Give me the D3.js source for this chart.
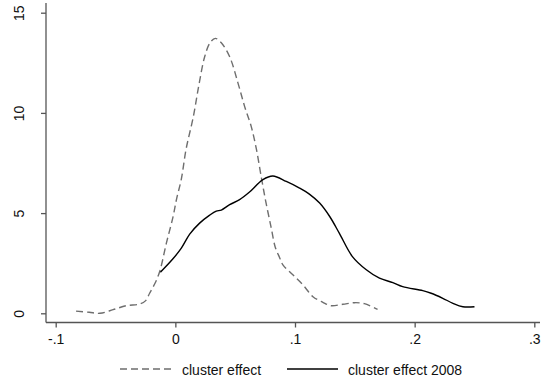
<!DOCTYPE html>
<html>
<head>
<meta charset="utf-8">
<script src="https://cdn.jsdelivr.net/npm/d3@7"></script>
<style>
  body { margin: 0; background: #fff; }
  svg { display: block; font-family: "Liberation Sans", Arial, sans-serif; }
</style>
</head>
<body>
<svg width="542" height="381"></svg>
<script>
// cluster effect (dashed grey)
const effectX = [-0.083, -0.072, -0.063, -0.052, -0.041, -0.030, -0.025, -0.0215, -0.017, -0.013,
  -0.0075, -0.002, 0.001, 0.005, 0.009, 0.015, 0.020, 0.0245, 0.029, 0.0334, 0.0384, 0.0454,
  0.0523, 0.058, 0.0635, 0.0677, 0.0718, 0.0755, 0.080, 0.0835, 0.087, 0.0899, 0.0982, 0.1066,
  0.115, 0.1233, 0.130, 0.140, 0.150, 0.158, 0.169];
const effectY = [0.11, 0.05, 0.0, 0.18, 0.38, 0.46, 0.62, 1.0, 1.5, 2.1,
  3.5, 4.8, 5.7, 6.7, 8.2, 9.8, 11.5, 12.8, 13.5, 13.72, 13.5, 12.8,
  11.5, 10.3, 9.3, 8.2, 6.8, 5.6, 4.3, 3.3, 2.8, 2.42, 1.92, 1.42,
  0.83, 0.55, 0.38, 0.45, 0.53, 0.48, 0.2];

// cluster effect 2008 (solid black)
const effect2008X = [-0.0125, -0.002, 0.005, 0.012, 0.0203, 0.0287, 0.0342, 0.0384, 0.0454, 0.0537,
  0.062, 0.0732, 0.0815, 0.0927, 0.1038, 0.112, 0.1206, 0.129, 0.137, 0.148, 0.1596, 0.1706,
  0.1818, 0.190, 0.2068, 0.2138, 0.2235, 0.232, 0.2403, 0.25];
const effect2008Y = [2.05, 2.72, 3.25, 3.95, 4.5, 4.9, 5.1, 5.15, 5.42, 5.67,
  6.05, 6.67, 6.85, 6.58, 6.25, 5.95, 5.5, 4.83, 4.0, 2.83, 2.17, 1.75,
  1.53, 1.33, 1.13, 1.0, 0.75, 0.5, 0.33, 0.33];

const xTicks = [-0.1, 0, 0.1, 0.2, 0.3];
const xTickLabels = ['-.1', '0', '.1', '.2', '.3'];
const yTicks = [0, 5, 10, 15];
const seriesNames = ['cluster effect', 'cluster effect 2008'];

const svg = d3.select('svg');

const xScale = d3.scaleLinear()
  .domain([-0.1, 0.3])
  .range([55.7, 534.3]);
const yScale = d3.scaleLinear()
  .domain([0, 15])
  .range([313.3, 12.7]);

const axisColor = '#555';

// axes lines
svg.append('line')
  .attr('x1', 46).attr('x2', 46)
  .attr('y1', 3).attr('y2', 322.5)
  .attr('stroke', axisColor).attr('stroke-width', 1.3);
svg.append('line')
  .attr('x1', 46).attr('x2', 540)
  .attr('y1', 322.5).attr('y2', 322.5)
  .attr('stroke', axisColor).attr('stroke-width', 1.3);

// x axis
const xAxis = d3.axisBottom(xScale)
  .tickValues(xTicks)
  .tickFormat((d, i) => xTickLabels[i])
  .tickSize(5)
  .tickPadding(7);
const gx = svg.append('g')
  .attr('transform', 'translate(0,322.5)')
  .call(xAxis);
gx.select('.domain').remove();
gx.selectAll('.tick line').attr('stroke', axisColor).attr('stroke-width', 1.3);
gx.selectAll('.tick text')
  .attr('fill', '#111')
  .style('font-size', '14px')
  .style('font-family', '"Liberation Sans", Arial, sans-serif');

// y axis
const yAxis = d3.axisLeft(yScale)
  .tickValues(yTicks)
  .tickSize(5)
  .tickFormat(d3.format('d'));
const gy = svg.append('g')
  .attr('transform', 'translate(46,0)')
  .call(yAxis);
gy.select('.domain').remove();
gy.selectAll('.tick line').attr('stroke', axisColor).attr('stroke-width', 1.3);
gy.selectAll('.tick text')
  .attr('fill', '#111')
  .attr('x', null).attr('dy', null)
  .attr('text-anchor', 'middle')
  .attr('transform', 'translate(-22,0) rotate(-90)')
  .style('font-size', '14px')
  .style('font-family', '"Liberation Sans", Arial, sans-serif');

// lines
const line = d3.line()
  .x(d => xScale(d[0]))
  .y(d => yScale(d[1]))
  .curve(d3.curveCatmullRom.alpha(0.5));

const effectData = effectX.map((x, i) => [x, effectY[i]]);
const effect2008Data = effect2008X.map((x, i) => [x, effect2008Y[i]]);

svg.append('path')
  .datum(effectData)
  .attr('d', line)
  .attr('fill', 'none')
  .attr('stroke', '#6e6e6e')
  .attr('stroke-width', 1.4)
  .attr('stroke-dasharray', '7,4');

svg.append('path')
  .datum(effect2008Data)
  .attr('d', line)
  .attr('fill', 'none')
  .attr('stroke', '#000')
  .attr('stroke-width', 1.4);

// legend
const legend = svg.append('g');
legend.append('line')
  .attr('x1', 120).attr('x2', 172)
  .attr('y1', 369).attr('y2', 369)
  .attr('stroke', '#6e6e6e').attr('stroke-width', 1.4)
  .attr('stroke-dasharray', '7,4');
legend.append('text')
  .attr('x', 182).attr('y', 375)
  .attr('fill', '#111')
  .style('font-size', '14px')
  .text(seriesNames[0]);
legend.append('line')
  .attr('x1', 287).attr('x2', 338)
  .attr('y1', 369).attr('y2', 369)
  .attr('stroke', '#000').attr('stroke-width', 1.4);
legend.append('text')
  .attr('x', 348).attr('y', 375)
  .attr('fill', '#111')
  .style('font-size', '14px')
  .text(seriesNames[1]);
</script>
</body>
</html>
